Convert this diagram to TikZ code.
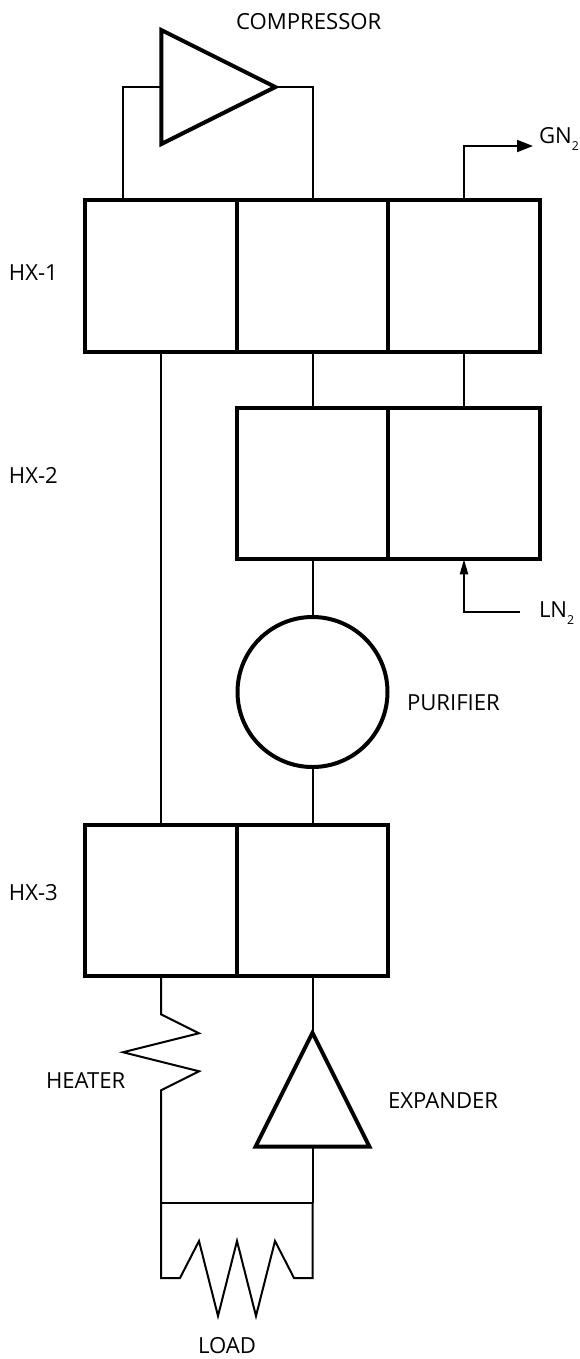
\documentclass[tikz,border=0pt]{standalone}
\usepackage{fontspec}
\setmainfont{Open Sans}
\usetikzlibrary{arrows.meta,positioning,calc,shapes.geometric}
\newcommand{\subtwo}{\raisebox{-4pt}{\fontsize{7}{8}\selectfont 2}}
\begin{document}
\begin{tikzpicture}[>=Latex,font=\fontsize{12.6}{15}\selectfont,x=1.000cm,y=1.000cm,line width=0.04cm,
 cell/.style={draw,rectangle,line width=0.08cm,minimum size=3.03cm,inner sep=0pt,outer sep=0pt},
 purifierbox/.style={draw,circle,line width=0.08cm,minimum size=3.00cm,inner sep=0pt,outer sep=0pt},
 turbo/.style={draw,isosceles triangle,isosceles triangle apex angle=53.13,line width=0.08cm,minimum height=2.28cm,minimum width=2.28cm,inner sep=0pt,outer sep=0pt,isosceles triangle stretches},
 lab/.style={inner sep=0pt,anchor=base west}]
\useasboundingbox (0,0) rectangle (11.600,-27.180);
% heat exchangers
\node[cell] (hx1a) at (3.220,-5.520) {};
\node[cell] (hx1b) at (6.250,-5.520) {};
\node[cell] (hx1c) at (9.280,-5.520) {};
\node[cell] (hx2a) at (6.250,-9.670) {};
\node[cell] (hx2b) at (9.280,-9.670) {};
\node[cell] (hx3a) at (3.220,-18.010) {};
\node[cell] (hx3b) at (6.250,-18.010) {};
\node[purifierbox] (pur) at (6.250,-13.840) {};
\node[turbo] (comp) at (3.930,-1.740) {};
\node[turbo,shape border rotate=90] (exp) at (6.250,-22.230) {};
\coordinate (compin) at (2.460,-4.000);
\coordinate (gnend) at (10.660,-2.920);
\coordinate (lnend) at (10.400,-12.240);
\coordinate (heatjoin) at (3.220,-24.060);
\coordinate (expjoin) at (6.250,-24.060);
% labels
\node[lab] (compl) at (4.700,-0.580) {COMPRESSOR};
\node[lab] (hx1l) at (0.160,-5.600) {HX-1};
\node[lab] (hx2l) at (0.160,-9.660) {HX-2};
\node[lab] (hx3l) at (0.160,-18.000) {HX-3};
\node[lab] (purl) at (8.120,-14.200) {PURIFIER};
\node[lab] (expl) at (7.740,-22.160) {EXPANDER};
\node[lab] (heatl) at (0.900,-21.760) {HEATER};
\node[lab] (loadl) at (3.940,-27.060) {LOAD};
\node[lab] (gnl) at (10.760,-2.860) {GN\subtwo};
\node[lab] (lnl) at (10.760,-12.340) {LN\subtwo};
% piping
\draw (comp.lower side) -| (compin) -- (compin |- hx1a.north);
\draw (comp.apex) -| (hx1b.north);
\draw[-{Triangle[length=0.320cm,width=0.240cm]}] (hx1c.north) |- (gnend);
\draw (hx1a.south) -- (hx3a.north);
\draw (hx1b.south) -- (hx2a.north);
\draw (hx1c.south) -- (hx2b.north);
\draw (hx2a.south) -- (pur.north);
\draw (pur.south) -- (hx3b.north);
\draw[-{Triangle[length=0.300cm,width=0.160cm]}] (lnend) -| (hx2b.south);
\draw (hx3b.south) -- (exp.apex);
\draw (exp.lower side) -- (expjoin);
\draw (hx3a.south) -- ++(0,-0.760) -- ++(0.760,-0.380) -- ++(-1.520,-0.380) -- ++(1.520,-0.380) -- ++(-0.760,-0.380) -- (heatjoin);
\draw (heatjoin) -- (expjoin);
\draw (heatjoin) -- ++(0,-1.500) -- ++(0.380,0) -- ++(0.380,0.740) -- ++(0.380,-1.500) -- ++(0.380,1.500) -- ++(0.380,-1.500) -- ++(0.380,1.500) -- ++(0.380,-0.740) -- ++(0.370,0) -- (expjoin);
\end{tikzpicture}
\end{document}
